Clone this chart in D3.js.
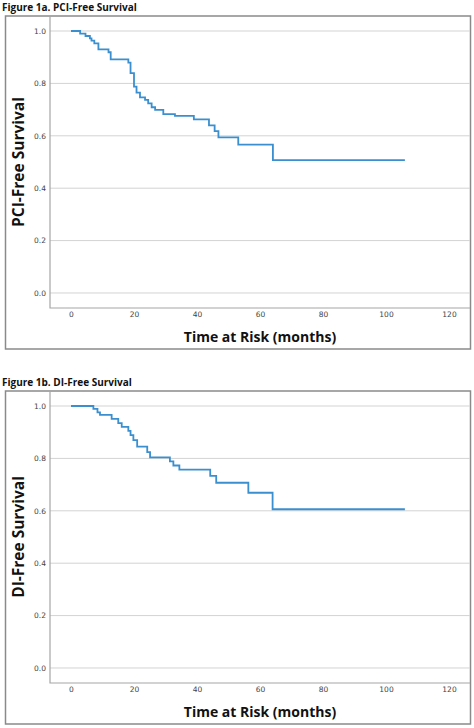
<!DOCTYPE html>
<html>
<head>
<meta charset="utf-8">
<script src="https://cdn.jsdelivr.net/npm/d3@7"></script>
<style>
  html, body { margin: 0; padding: 0; background: #fff; }
  svg { display: block; }
</style>
</head>
<body>
<svg id="chart" width="474" height="728"></svg>
<script>
// ---- Data ----
const xTicks = [0, 20, 40, 60, 80, 100, 120];
const yTicks = [0.0, 0.2, 0.4, 0.6, 0.8, 1.0];

const pciTimes  = [0, 2.9, 4.6, 6.0, 6.5, 7.4, 8.7, 11.9, 12.6, 18.2, 18.9, 20.0, 20.8, 21.9, 23.5, 24.5, 25.6, 26.7, 29.3, 33.0, 39.0, 43.8, 45.6, 46.8, 53.1, 64.1, 106];
const pciSurv   = [1.0, 0.99, 0.981, 0.972, 0.963, 0.953, 0.93, 0.919, 0.892, 0.879, 0.839, 0.788, 0.765, 0.747, 0.737, 0.724, 0.709, 0.699, 0.683, 0.676, 0.663, 0.64, 0.618, 0.594, 0.566, 0.507, 0.507];

const diTimes   = [0, 7.1, 8.4, 9.2, 12.9, 15.0, 16.1, 18.2, 18.9, 19.8, 21.0, 24.2, 25.1, 31.4, 32.5, 34.4, 44.2, 46.1, 56.3, 64.0, 106];
const diSurv    = [1.0, 0.989, 0.976, 0.966, 0.951, 0.935, 0.92, 0.905, 0.889, 0.87, 0.845, 0.824, 0.804, 0.789, 0.773, 0.757, 0.733, 0.707, 0.669, 0.606, 0.606];

const panels = [
  { title: "Figure 1a. PCI-Free Survival", yTitle: "PCI-Free Survival", times: pciTimes, surv: pciSurv, top: 0 },
  { title: "Figure 1b. DI-Free Survival",  yTitle: "DI-Free Survival",  times: diTimes,  surv: diSurv,  top: 375 }
];

const svg = d3.select("#chart");
const lineColor = "#3b8fce";

panels.forEach(p => {
  const g = svg.append("g").attr("transform", `translate(0,${p.top})`);

  // Figure caption
  g.append("text")
    .attr("x", 2).attr("y", 10.5)
    .attr("font-family", "Open Sans, Lato, sans-serif")
    .attr("font-weight", "bold")
    .attr("font-size", 10)
    .attr("fill", "#111")
    .text(p.title);

  // Outer frame
  g.append("rect")
    .attr("x", 5.5).attr("y", 16).attr("width", 465).attr("height", 333)
    .attr("fill", "none").attr("stroke", "#8a8a8a").attr("stroke-width", 1.5);

  const plotL = 50, plotR = 470, plotT = 16, plotB = 308;
  const x = d3.scaleLinear().domain([-6.67, 126.67]).range([plotL, plotR]);
  const y = d3.scaleLinear().domain([-0.0573, 1.0573]).range([plotB, plotT]);

  // Gridlines
  g.append("g").selectAll("line").data(yTicks).join("line")
    .attr("x1", plotL).attr("x2", plotR)
    .attr("y1", d => y(d)).attr("y2", d => y(d))
    .attr("stroke", "#d3d3d3").attr("stroke-width", 1);

  // Inner plot frame (left & bottom)
  g.append("path")
    .attr("d", `M${plotL},${plotT}V${plotB}H${plotR}`)
    .attr("fill", "none").attr("stroke", "#a6a6a6").attr("stroke-width", 1.2);

  // Axes
  const yAxis = g.append("g").attr("transform", `translate(${plotL},0)`)
    .call(d3.axisLeft(y).tickValues(yTicks).tickFormat(d3.format(".1f")).tickSize(0).tickPadding(4));
  yAxis.select(".domain").remove();
  yAxis.selectAll("text").attr("font-family", "DejaVu Sans, sans-serif").attr("font-size", 7.5).attr("fill", "#444");

  const xAxis = g.append("g").attr("transform", `translate(0,${plotB})`)
    .call(d3.axisBottom(x).tickValues(xTicks).tickFormat(d3.format("d")).tickSize(0).tickPadding(4));
  xAxis.select(".domain").remove();
  xAxis.selectAll("text").attr("font-family", "DejaVu Sans, sans-serif").attr("font-size", 7.5).attr("fill", "#444");

  // Axis titles
  g.append("text")
    .attr("x", (plotL + plotR) / 2).attr("y", 342)
    .attr("text-anchor", "middle")
    .attr("font-family", "Open Sans, sans-serif").attr("font-weight", "bold")
    .attr("font-size", 14).attr("fill", "#111")
    .text("Time at Risk (months)");

  g.append("text")
    .attr("transform", `translate(24,${(plotT + plotB) / 2}) rotate(-90)`)
    .attr("text-anchor", "middle")
    .attr("font-family", "Open Sans, sans-serif").attr("font-weight", "bold")
    .attr("font-size", 15.5).attr("fill", "#111")
    .text(p.yTitle);

  // Survival step curve
  const pts = p.times.map((t, i) => [t, p.surv[i]]);
  g.append("path")
    .datum(pts)
    .attr("d", d3.line().x(d => x(d[0])).y(d => y(d[1])).curve(d3.curveStepAfter))
    .attr("fill", "none").attr("stroke", lineColor).attr("stroke-width", 1.8);
});
</script>
</body>
</html>
